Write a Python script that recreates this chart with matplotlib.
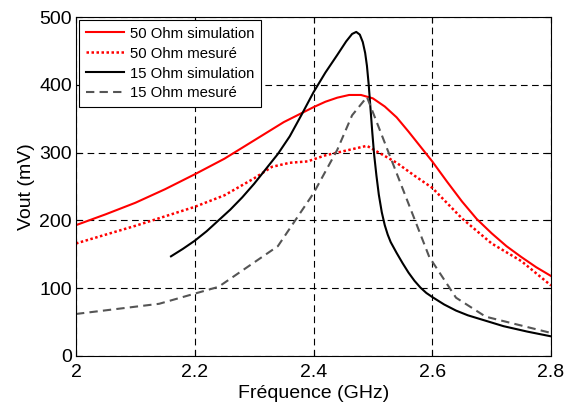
import matplotlib
matplotlib.use("Agg")
import matplotlib.pyplot as plt

plt.rcParams["font.family"] = ["Liberation Sans", "DejaVu Sans"]

# =====================================================
# DATA
# =====================================================
freq_50_sim = [2.0, 2.05, 2.1, 2.15, 2.2, 2.25, 2.3, 2.35, 2.4, 2.42, 2.44,
               2.46, 2.48, 2.5, 2.52, 2.54, 2.56, 2.58, 2.6, 2.625, 2.65,
               2.675, 2.7, 2.725, 2.75, 2.775, 2.8]
vout_50_sim = [193, 209, 226, 246, 268, 291, 318, 345, 367, 375, 381,
               385, 385, 380, 368, 352, 331, 309, 287, 257, 228,
               202, 181, 162, 146, 131, 118]

freq_50_mes = [2.0, 2.05, 2.1, 2.15, 2.2, 2.25, 2.3, 2.33, 2.36, 2.39, 2.42,
               2.46, 2.49, 2.51, 2.54, 2.57, 2.6, 2.65, 2.7, 2.75, 2.8]
vout_50_mes = [166, 179, 192, 206, 220, 237, 262, 279, 285, 287, 296,
               304, 310, 300, 285, 266, 248, 203, 166, 140, 104]

freq_15_sim = [2.16, 2.18, 2.2, 2.22, 2.24, 2.26, 2.28, 2.3, 2.32, 2.34, 2.36,
               2.38, 2.4, 2.42, 2.44, 2.455, 2.465, 2.472, 2.478, 2.483, 2.487,
               2.49, 2.493, 2.496, 2.499, 2.502, 2.506, 2.51, 2.515, 2.52, 2.525,
               2.53, 2.54, 2.55, 2.56, 2.57, 2.58, 2.59, 2.6, 2.62, 2.64, 2.66,
               2.69, 2.72, 2.76, 2.8]
vout_15_sim = [147, 158, 170, 184, 200, 216, 234, 254, 276, 298, 324,
               356, 389, 418, 444, 464, 475, 478, 474, 463, 447,
               428, 400, 365, 330, 298, 266, 238, 212, 193, 179,
               168, 152, 137, 123, 111, 101, 93, 87, 76, 67, 60,
               52, 44, 36, 29]

freq_15_mes = [2.0, 2.14, 2.24, 2.34, 2.4, 2.44, 2.465, 2.49, 2.595, 2.64, 2.69, 2.8]
vout_15_mes = [62, 77, 102, 162, 240, 304, 355, 382, 146, 86, 58, 34]

labels = ["50 Ohm simulation", "50 Ohm mesuré", "15 Ohm simulation", "15 Ohm mesuré"]

# =====================================================
# PLOT
# =====================================================
fig = plt.figure(figsize=(5.65, 4.03), dpi=100)
ax = fig.add_axes([76 / 565, 47 / 403, 475 / 565, 339 / 403])

ax.plot(freq_50_sim, vout_50_sim, color="red", linewidth=1.5, label=labels[0])
ax.plot(freq_50_mes, vout_50_mes, color="red", linewidth=1.8,
        linestyle=(0, (1, 1)), label=labels[1])
ax.plot(freq_15_sim, vout_15_sim, color="black", linewidth=1.5, label=labels[2])
ax.plot(freq_15_mes, vout_15_mes, color="#555555", linewidth=1.5,
        linestyle=(0, (4, 2.5)), label=labels[3])

ax.set_xlim(2, 2.8)
ax.set_ylim(0, 500)
ax.set_xticks([2, 2.2, 2.4, 2.6, 2.8])
ax.set_xticklabels(["2", "2.2", "2.4", "2.6", "2.8"])
ax.set_yticks([0, 100, 200, 300, 400, 500])

ax.grid(True, color="black", linestyle=(0, (6, 4)), linewidth=0.8)
ax.tick_params(direction="in", top=True, right=True, length=4,
               labelsize=14, pad=6)
ax.tick_params(axis="y", pad=3)

ax.set_xlabel("Fréquence (GHz)", fontsize=14, labelpad=3)
ax.set_ylabel("Vout (mV)", fontsize=14, labelpad=3)

leg = ax.legend(loc="upper left", fontsize=10.7, fancybox=False,
                framealpha=1, edgecolor="black", borderaxespad=0.2,
                handlelength=2.6, handletextpad=0.35, labelspacing=0.4,
                borderpad=0.45)
leg.get_frame().set_linewidth(0.8)

fig.savefig("out.png", dpi=100)
